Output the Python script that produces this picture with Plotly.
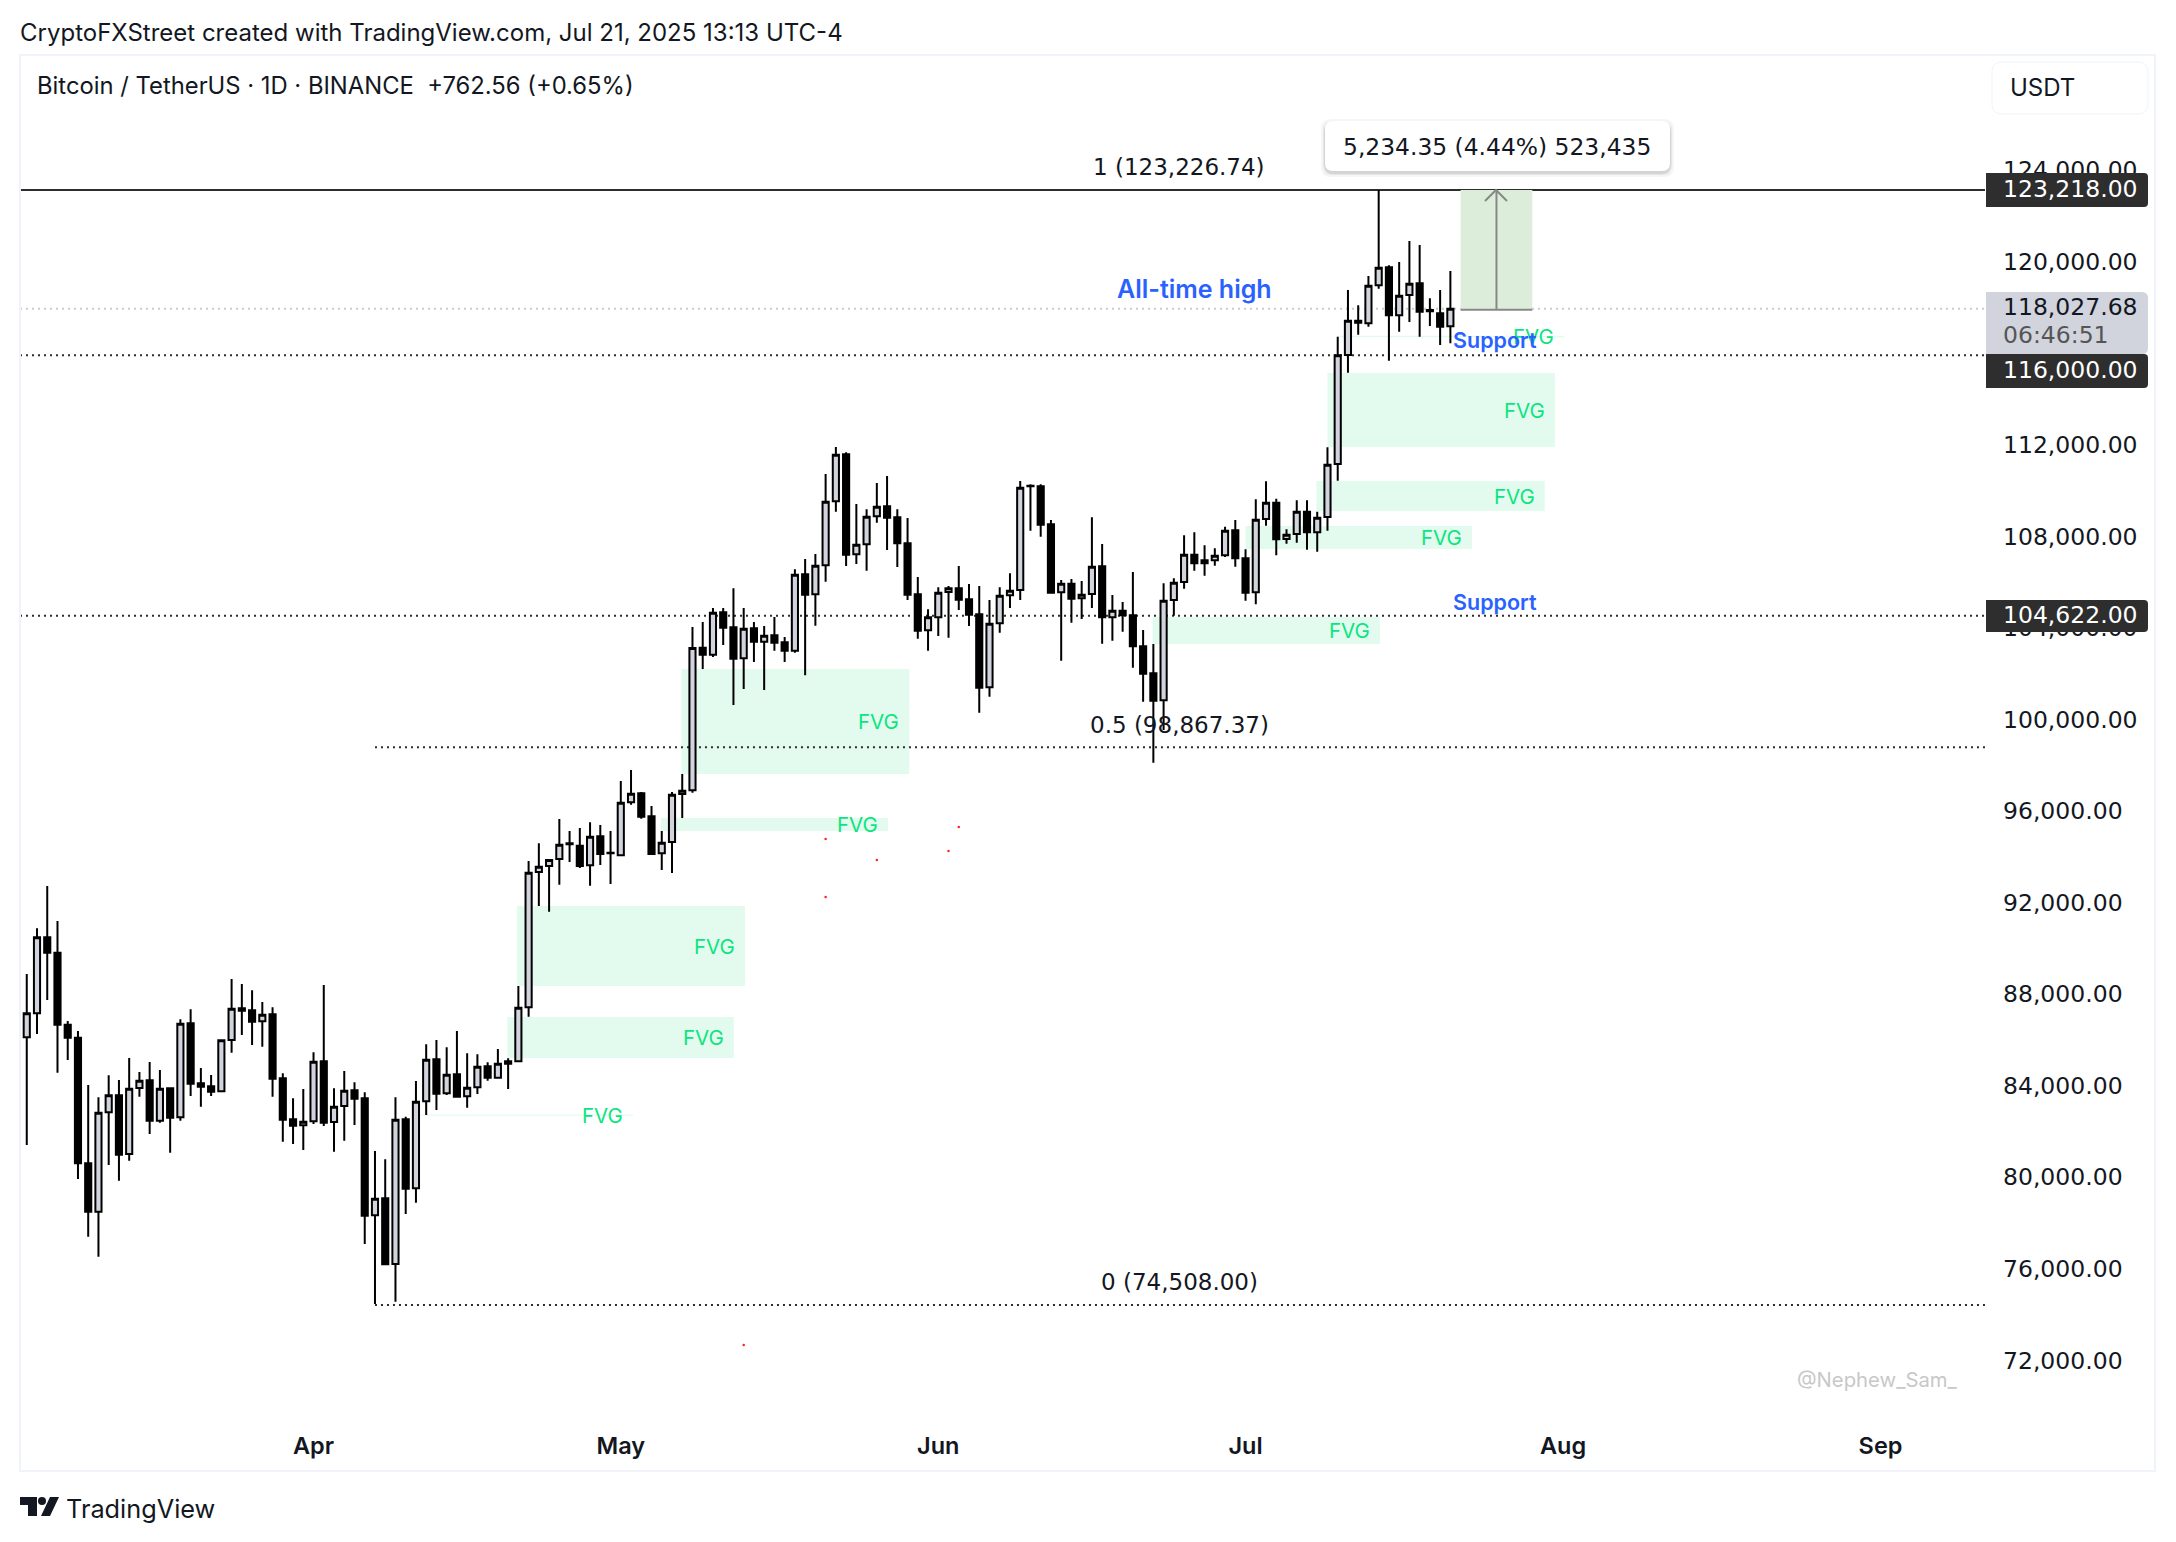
import pandas as pd
import plotly.graph_objects as go

# the page keeps the browser's 8px body margin, so the figure is 16px smaller than the window
PAGE_MARGIN = 8
W, H = 2176 - 2 * PAGE_MARGIN, 1542 - 2 * PAGE_MARGIN
# plot pane in window pixels, only used for the chrome around the chart
L, R, T, B = 20, 1985, 55, 1471

start_date = "2025-03-04"
opens = [86198, 87247, 90567, 89897, 86751, 86183, 80693, 78582, 82921, 83664,
         81101, 83985, 84320, 82557, 83970, 82703, 86810, 84188, 84057, 83839,
         86082, 87465, 87378, 86897, 87203, 84407, 82616, 82353, 82528, 85150,
         82499, 83198, 83883, 83533, 78421, 79164, 76295, 82616, 79601, 83402,
         85237, 83751, 84582, 83621, 84014, 84931, 84436, 85150, 85150, 87509,
         93421, 93684, 93990, 94674, 94572, 93713, 94980, 94266, 94150, 96465,
         96858, 95854, 94237, 94732, 96830, 96990, 103223, 102917, 104766, 104111,
         102757, 104067, 103485, 103761, 103456, 103092, 106427, 105553, 106820, 109616,
         111670, 107301, 107738, 108961, 109398, 108917, 107782, 105552, 103980, 104548,
         105655, 105815, 105334, 104679, 101490, 104286, 105509, 105742, 110300, 110271,
         108611, 105640, 106019, 105378, 105567, 106776, 104548, 104839, 104635, 103281,
         102101, 100922, 105305, 106091, 107286, 107038, 107038, 107256, 108349, 107125,
         105640, 108844, 109557, 107970, 108188, 109164, 108261, 108931, 111247, 116009,
         117509, 117393, 119053, 119839, 117742, 118631, 119140, 117975, 117830, 117265]
highs = [88965, 90960, 92810, 91281, 86912, 86475, 84116, 83577, 84538, 84334,
         85295, 84683, 85120, 84771, 84014, 86984, 87422, 84858, 84553, 86111,
         88747, 88528, 88251, 87742, 87509, 84625, 83533, 83941, 85543, 88485,
         83970, 84727, 84232, 83795, 81232, 80868, 83577, 82732, 84290, 85892,
         86082, 85761, 86475, 85499, 85455, 85106, 85688, 85281, 88441, 93902,
         94674, 93975, 95737, 95213, 95344, 95592, 95475, 95213, 97398, 97878,
         96917, 96305, 95213, 96917, 97703, 104126, 104344, 104956, 104956, 105815,
         104956, 104344, 104169, 104562, 103689, 106646, 107097, 107315, 110811, 111990,
         111757, 109500, 109267, 110417, 110723, 109267, 108888, 106310, 104897, 105858,
         105917, 106790, 106004, 105917, 105305, 105858, 106470, 110504, 110358, 110358,
         108800, 106179, 106222, 106135, 108917, 107752, 105523, 105218, 106528, 103994,
         103383, 106033, 106251, 108130, 108261, 107693, 107562, 108509, 108800, 107518,
         109703, 110489, 109732, 108392, 109659, 109659, 109164, 111975, 116810, 118849,
         118179, 119461, 123218, 119926, 120072, 120990, 120815, 118485, 118849, 119679]
lows = [81494, 86344, 87829, 84654, 85208, 80009, 77489, 76616, 80621, 79936,
        80810, 83606, 81975, 82470, 81159, 82557, 83635, 83169, 83635, 83839,
        85528, 86300, 85863, 85790, 83606, 81640, 81538, 81276, 82411, 82324,
        81203, 81684, 82368, 77169, 74548, 76281, 74650, 78480, 78975, 82805,
        83024, 83679, 83606, 83125, 83723, 84305, 84407, 83941, 85135, 87101,
        91936, 91689, 92868, 93859, 93597, 92824, 93728, 92898, 94150, 96363,
        95752, 94164, 93509, 93378, 95781, 96888, 102291, 102815, 103339, 100718,
        101417, 102596, 101373, 103092, 102596, 103000, 102014, 104184, 106107, 109165,
        106791, 106879, 106587, 108684, 107490, 106747, 105306, 103616, 103091, 103732,
        103659, 104868, 104169, 100383, 101082, 103878, 104955, 105305, 108334, 108072,
        105625, 102654, 104315, 104475, 104955, 103397, 103528, 103921, 102349, 100863,
        98198, 99625, 104620, 105800, 106586, 106368, 106805, 107184, 106761, 105276,
        105116, 108552, 107256, 107766, 107810, 107504, 107417, 108334, 110519, 115237,
        116897, 117247, 118907, 115762, 117029, 117451, 116810, 117276, 116446, 116519]
closes = [87247, 90567, 89897, 86751, 86183, 80693, 78582, 82907, 83664, 81072,
          83956, 84305, 82557, 83956, 82688, 86795, 84174, 84043, 83824, 86067,
          87450, 87363, 86883, 87188, 84392, 82601, 82339, 82513, 85135, 82470,
          83169, 83868, 83519, 78407, 79150, 76281, 82601, 79586, 83387, 85222,
          83737, 84567, 83606, 84000, 84917, 84436, 85048, 85048, 87494, 93392,
          93654, 93946, 94616, 94631, 93684, 94965, 94208, 94237, 96451, 96844,
          95839, 94208, 94703, 96800, 96975, 103208, 102917, 104752, 104096, 102742,
          104053, 103485, 103747, 103441, 103092, 106413, 105539, 106806, 109602, 111655,
          107286, 107723, 108946, 109383, 108903, 107782, 105538, 103965, 104548, 105625,
          105815, 105320, 104664, 101475, 104271, 105494, 105713, 110213, 110271, 108596,
          105625, 106019, 105363, 105538, 106761, 104548, 104839, 104635, 103281, 102087,
          100907, 105276, 106062, 107286, 106907, 106907, 107242, 108334, 107125, 105625,
          108815, 109557, 107955, 108159, 109164, 108261, 108902, 111218, 115995, 117509,
          117422, 119038, 119825, 117742, 118601, 119126, 117902, 117917, 117247, 118028]

ytick_vals = list(range(72000, 124001, 4000))
month_ticks = ["2025-04-01", "2025-05-01", "2025-06-01", "2025-07-01", "2025-08-01", "2025-09-01"]
month_labels = ["Apr", "May", "Jun", "Jul", "Aug", "Sep"]

fvg_start = ["2025-05-06 22:00", "2025-05-04 22:00", "2025-04-20 21:00", "2025-04-19 22:00",
             "2025-04-11 10:00", "2025-06-21 22:00", "2025-07-01 00:00", "2025-07-09 00:00",
             "2025-07-07 22:00", "2025-07-09 23:00"]
fvg_end = ["2025-05-29 04:00", "2025-05-27 02:00", "2025-05-13 03:00", "2025-05-12 01:00",
           "2025-05-02 05:00", "2025-07-14 03:00", "2025-07-23 03:00", "2025-07-31 05:00",
           "2025-07-30 05:00", "2025-08-01 03:00"]
fvg_top = [102291, 95781, 91936, 87087, 82830, 104562, 108538, 115223, 110504, 116850]
fvg_bottom = [97703, 95213, 88441, 85295, 82770, 103383, 107533, 111990, 109194, 116790]

speck_dates = ["2025-05-21", "2025-05-26", "2025-05-21", "2025-06-02", "2025-06-03", "2025-05-13"]
speck_prices = [94863, 93946, 92329, 94339, 95387, 72756]

ath_line = 123218
support_high = 116000
support_low = 104622
last_price = 118027.68
fib_half = 98867.37
fib_zero = 74508
fib_start = "2025-04-07"
measure_start, measure_end = "2025-07-22", "2025-07-29"
measure_mid = "2025-07-25 12:00"
measure_low = 117984

NUMBERS = "DejaVu Sans"


def xp(px):
    return (px - L) / (R - L)


def yp(py):
    return 1 - (py - T) / (B - T)


def round_rect(x0, y0, x1, y1, rl, rr):
    # rounded rectangle path in paper units, rl/rr are the left and right corner radii
    pts = [
        f"M{xp(x0 + rl)},{yp(y0)}", f"L{xp(x1 - rr)},{yp(y0)}",
        f"Q{xp(x1)},{yp(y0)} {xp(x1)},{yp(y0 + rr)}", f"L{xp(x1)},{yp(y1 - rr)}",
        f"Q{xp(x1)},{yp(y1)} {xp(x1 - rr)},{yp(y1)}", f"L{xp(x0 + rl)},{yp(y1)}",
        f"Q{xp(x0)},{yp(y1)} {xp(x0)},{yp(y1 - rl)}", f"L{xp(x0)},{yp(y0 + rl)}",
        f"Q{xp(x0)},{yp(y0)} {xp(x0 + rl)},{yp(y0)}", "Z",
    ]
    return "".join(pts)


def poly(points):
    return "M" + "L".join(f"{xp(a)},{yp(b)}" for a, b in points) + "Z"


def page_shape(path, fill, line=None, layer="above"):
    return dict(type="path", path=path, xref="paper", yref="paper", fillcolor=fill, layer=layer,
                line=dict(width=1 if line else 0, color=line or "rgba(0,0,0,0)"))


def page_text(x, y, text, size=24, color="#131722", anchor="left", weight=400, family="Inter"):
    return dict(x=xp(x), y=yp(y), xref="paper", yref="paper", text=text, showarrow=False,
                xanchor=anchor, yanchor="middle", borderpad=0,
                font=dict(size=size, color=color, weight=weight, family=family))


dates = pd.date_range(start_date, periods=len(opens), freq="D")

fig = go.Figure()
fig.add_trace(go.Candlestick(
    x=dates, open=opens, high=highs, low=lows, close=closes,
    whiskerwidth=0,
    increasing=dict(fillcolor="#d1d4dc", line=dict(color="#000000", width=2)),
    decreasing=dict(fillcolor="#000000", line=dict(color="#000000", width=2)),
    showlegend=False,
))
fig.add_trace(go.Scatter(x=speck_dates, y=speck_prices, mode="markers",
                         marker=dict(color="#ff2020", size=2.5), showlegend=False))

shapes = []
annotations = []

# fair value gaps
for x0, x1, top, bottom in zip(fvg_start, fvg_end, fvg_top, fvg_bottom):
    shapes.append(dict(type="rect", x0=x0, x1=x1, y0=bottom, y1=top, layer="below",
                       fillcolor="#e3fbef", line=dict(width=0)))
    annotations.append(dict(x=x1, y=(top + bottom) / 2, text="FVG", showarrow=False, xanchor="right",
                            xshift=-8, yanchor="middle", font=dict(size=20.5, color="#0ae57f")))

# measure tool
shapes.append(dict(type="rect", x0=measure_start, x1=measure_end, y0=measure_low, y1=ath_line,
                   layer="below", fillcolor="#dcedda", line=dict(width=0)))

# horizontal levels
dot = "2px,4px"
shapes += [
    dict(type="line", xref="x domain", x0=0, x1=1, y0=last_price, y1=last_price, layer="below",
         line=dict(color="#c9cbd3", width=2, dash=dot)),
    dict(type="line", xref="x domain", x0=0, x1=1, y0=support_high, y1=support_high, layer="below",
         line=dict(color="#2e2e2e", width=2, dash=dot)),
    dict(type="line", xref="x domain", x0=0, x1=1, y0=support_low, y1=support_low, layer="below",
         line=dict(color="#2e2e2e", width=2, dash=dot)),
    dict(type="line", xref="x domain", x0=0, x1=1, y0=ath_line, y1=ath_line, layer="below",
         line=dict(color="#2e2e2e", width=2)),
]
pane_end = pd.Timestamp(start_date) + pd.Timedelta(days=191.2)
for level in (fib_half, fib_zero):
    shapes.append(dict(type="line", x0=fib_start, x1=pane_end, y0=level, y1=level, layer="below",
                       line=dict(color="#2e2e2e", width=2, dash=dot)))

# arrow of the measure tool
shapes.append(dict(type="line", x0=measure_start, x1=measure_end, y0=measure_low, y1=measure_low,
                   line=dict(color="#888888", width=2)))
shapes.append(dict(type="line", x0=measure_mid, x1=measure_mid, y0=measure_low, y1=ath_line,
                   line=dict(color="#888888", width=2)))
shapes.append(dict(type="path", xref="paper", yref="paper",
                   path=f"M{xp(1485)},{yp(201)}L{xp(1496)},{yp(190)}L{xp(1507)},{yp(201)}",
                   line=dict(color="#888888", width=2)))

# pane frame
shapes.append(dict(type="rect", xref="paper", yref="paper", x0=0, x1=xp(2155), y0=0, y1=1,
                   layer="below", line=dict(color="#f0f3fa", width=2)))

# measure label with a soft shadow
for grow, alpha in ((4, 0.04), (2, 0.06), (1, 0.08)):
    shapes.append(page_shape(round_rect(1325 - grow, 121 - grow + 2, 1670 + grow, 171 + grow + 2, 10, 10),
                             f"rgba(0,0,0,{alpha})"))
shapes.append(page_shape(round_rect(1325, 121, 1670, 171, 8, 8), "#ffffff"))

# price labels on the axis
shapes.append(page_shape(round_rect(1986, 292, 2148, 354, 0, 6), "#d1d4dc"))
shapes.append(page_shape(round_rect(1986, 173, 2148, 207, 0, 4), "#2e2e2e"))
shapes.append(page_shape(round_rect(1986, 354, 2148, 388, 0, 4), "#2e2e2e"))
shapes.append(page_shape(round_rect(1986, 600, 2148, 632, 0, 4), "#2e2e2e"))
shapes.append(page_shape(round_rect(1992, 62, 2148, 114, 10, 10), "#ffffff", "#f0f3fa"))

# TradingView logo
shapes.append(page_shape(poly([(20, 1497), (37, 1497), (37, 1516), (28, 1516), (28, 1505), (20, 1505)]), "#131722"))
shapes.append(dict(type="circle", xref="paper", yref="paper", x0=xp(38), x1=xp(46), y0=yp(1505), y1=yp(1497),
                   fillcolor="#131722", line=dict(width=0)))
shapes.append(page_shape(poly([(50, 1497), (59, 1497), (50, 1516), (41, 1516)]), "#131722"))

annotations += [
    page_text(19, 33, "CryptoFXStreet created with TradingView.com, Jul 21, 2025 13:13 UTC-4"),
    page_text(36, 86, "Bitcoin / TetherUS · 1D · BINANCE  +762.56 (+0.65%)", size=23.8),
    page_text(65, 1508, "TradingView", size=25.3),
    page_text(2009, 87, "USDT"),
    page_text(1342, 147, "5,234.35 (4.44%) 523,435", size=23.4, family=NUMBERS),
    page_text(1179, 167, "1 (123,226.74)", size=23, anchor="center", family=NUMBERS),
    page_text(1179, 725, "0.5 (98,867.37)", size=23, anchor="center", family=NUMBERS),
    page_text(1179, 1282, "0 (74,508.00)", size=23, anchor="center", family=NUMBERS),
    page_text(1194, 289, "All-time high", size=25, color="#2962ff", anchor="center", weight=600),
    page_text(1495, 340, "Support", size=21.5, color="#2962ff", anchor="center", weight=600),
    page_text(1495, 602, "Support", size=21.5, color="#2962ff", anchor="center", weight=600),
    page_text(1877, 1379, "@Nephew_Sam_", size=20.3, color="#c8c8c8", anchor="center"),
    page_text(2002, 189, "123,218.00", size=23.5, color="#ffffff", family=NUMBERS),
    page_text(2002, 307, "118,027.68", size=23.5, family=NUMBERS),
    page_text(2002, 335, "06:46:51", size=23.5, color="#555555", family=NUMBERS),
    page_text(2002, 370, "116,000.00", size=23.5, color="#ffffff", family=NUMBERS),
    page_text(2002, 615, "104,622.00", size=23.5, color="#ffffff", family=NUMBERS),
]

fig.update_layout(
    width=W, height=H,
    margin=dict(l=L - PAGE_MARGIN, r=W - (R - PAGE_MARGIN), t=T - PAGE_MARGIN, b=H - (B - PAGE_MARGIN), pad=0),
    autosize=False,
    paper_bgcolor="#ffffff", plot_bgcolor="#ffffff",
    font=dict(family="Inter", color="#131722"),
    boxgap=0.2, boxgroupgap=0.25,
    showlegend=False,
    shapes=shapes,
    annotations=annotations,
)
fig.update_xaxes(
    type="date",
    range=[pd.Timestamp(start_date) - pd.Timedelta(days=0.66), pane_end],
    tickvals=month_ticks, ticktext=month_labels,
    tickfont=dict(size=23.5, weight=600, color="#131722"),
    ticklabelposition="inside", ticklabelstandoff=9, ticks="", showgrid=False, zeroline=False, showline=False,
    rangeslider=dict(visible=False),
)
fig.update_yaxes(
    side="right", range=[67252, 129116],
    tickvals=ytick_vals, tickformat=",.2f",
    tickfont=dict(size=23.5, color="#131722", family=NUMBERS),
    ticks="", ticklabelstandoff=17, ticklabelshift=-2, showgrid=False, zeroline=False, showline=False,
)

fig.write_html("out.html")
